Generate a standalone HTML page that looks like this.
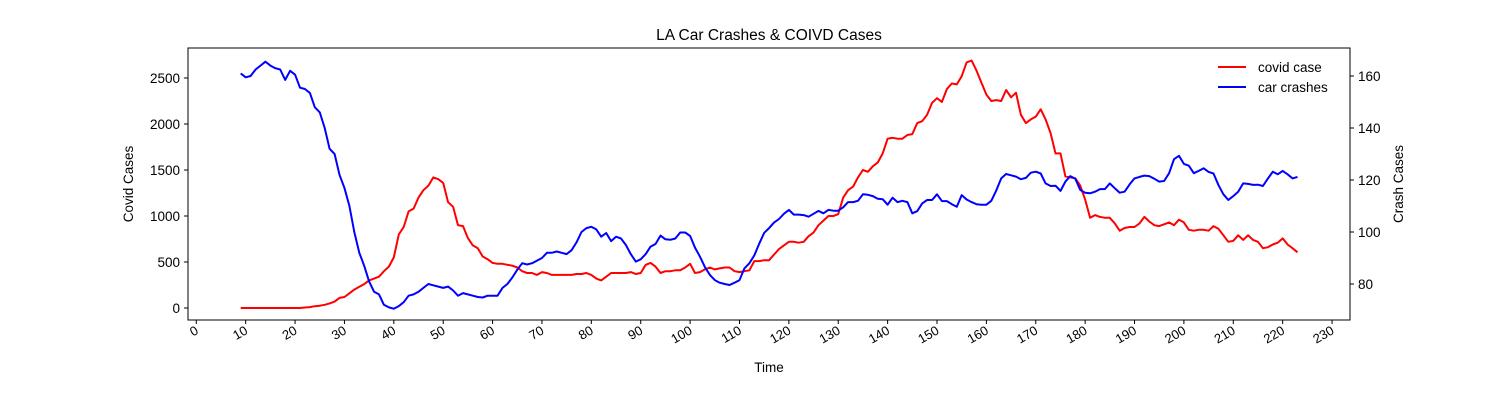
<!DOCTYPE html>
<html><head><meta charset="utf-8"><style>
body{margin:0;background:#fff;}
svg{display:block;font-family:"Liberation Sans","DejaVu Sans",sans-serif;}
</style></head><body>
<svg id="chart" width="1500" height="400" viewBox="0 0 1500 400">
<rect x="0" y="0" width="1500" height="400" fill="#fff"/>
<text x="769" y="40" font-size="15.5" text-anchor="middle">LA Car Crashes &amp; COIVD Cases</text>
<g id="xticks"></g>
<g id="lticks"></g>
<g id="rticks"></g>
<g id="series"></g>
<rect x="188" y="48" width="1162" height="272" fill="none" stroke="#000" stroke-width="1"/>
<text x="769" y="372" font-size="13.5" text-anchor="middle">Time</text>
<text x="133" y="184" font-size="13.5" text-anchor="middle" transform="rotate(-90 133 184)">Covid Cases</text>
<text x="1403" y="184" font-size="13.5" text-anchor="middle" transform="rotate(-90 1403 184)">Crash Cases</text>
<g>
<line x1="1218" y1="67" x2="1246" y2="67" stroke="#f00" stroke-width="2"/>
<text x="1258" y="72" font-size="13.5">covid case</text>
<line x1="1218" y1="87" x2="1246" y2="87" stroke="#00f" stroke-width="2"/>
<text x="1258" y="92" font-size="13.5">car crashes</text>
</g>
</svg>
<script>
const startDay = 9;
const covidCases = [0,0,0,0,0,0,0,0,0,0,0,0,0,5,10,20,25,35,50,70,110,120,160,200,230,260,300,320,340,400,450,550,800,880,1050,1080,1200,1280,1330,1420,1400,1360,1150,1100,900,890,760,680,650,560,530,490,480,480,470,460,440,400,380,380,360,390,380,360,360,360,360,360,370,370,380,360,320,300,340,380,380,380,380,390,370,380,470,490,450,380,400,400,410,410,440,480,380,390,420,440,420,430,440,440,400,390,400,410,510,510,520,520,580,640,680,720,720,710,720,780,820,900,950,1000,1000,1020,1200,1280,1320,1420,1500,1480,1540,1580,1680,1840,1850,1840,1840,1880,1890,2010,2030,2100,2230,2280,2240,2380,2440,2430,2520,2670,2690,2580,2450,2320,2250,2260,2250,2370,2290,2340,2100,2010,2050,2080,2160,2050,1900,1680,1680,1430,1420,1410,1330,1180,980,1010,990,980,980,920,840,870,880,880,920,990,940,900,890,910,930,900,960,930,850,840,850,850,840,890,860,790,720,730,790,740,790,740,720,650,660,690,710,757,690,650,605];
const crashCases = [161,159.5,160,162.5,164,165.5,164,163,162.5,158.5,162,160.5,155.5,155,153.5,148,146,140,132,130,122,117,110,100,92,87,81,77,76,72,71,70.5,71.5,73,75.5,76,77,78.5,80,79.5,79,78.5,79,77.5,75.5,76.5,76,75.5,75,74.8,75.5,75.5,75.5,78.5,80,82.5,85.5,88,87.5,88,89,90,92,92,92.5,92,91.5,93,96,100,101.5,
102,101,98.2,99.6,96.5,98.2,97.5,95,91.5,88.6,89.5,91.5,94.4,95.4,98.6,97.2,97,97.5,99.8,99.8,98.5,94,90.5,86.5,83.5,81.5,80.5,80,79.6,80.5,81.5,86,88,91,95.5,99.7,101.5,103.6,105,107,108.5,106.7,106.7,106.5,105.9,107,108.1,107.2,108.5,
108.2,108.2,109.5,111.5,111.5,112,114.5,114.3,113.8,112.8,112.6,110.5,113.2,111.5,112,111.5,107.2,108,111,112.3,112.3,114.5,111.9,111.9,110.7,109.7,114.2,112.5,111.5,110.7,110.5,110.5,112,116,120.6,122.3,121.8,121.3,120.3,120.8,122.8,123.2,122.5,118.7,117.7,117.8,115.8,119.4,121.5,120.5,116.2,115.1,
114.9,115.5,116.5,116.5,118.7,116.8,115.1,115.5,118.3,120.6,121.2,121.7,121.5,120.5,119.4,119.6,122.6,128,129.3,126.2,125.5,122.6,123.5,124.5,123.1,122.5,118,114.5,112.3,113.8,115.5,118.7,118.5,118.1,118.2,117.7,120.5,123.2,122.2,123.5,122.2,120.6,121.2];
const xTickLabels = [0,10,20,30,40,50,60,70,80,90,100,110,120,130,140,150,160,170,180,190,200,210,220,230];
const leftTickLabels = [0,500,1000,1500,2000,2500];
const rightTickLabels = [80,100,120,140,160];

const NS = "http://www.w3.org/2000/svg";
function xS(d){return 196.3 + d*4.938;}
function yL(v){return 308 - v*0.092;}
function yR(v){return 284 - (v-80)*2.6;}
function mk(tag, attrs, parent){const e=document.createElementNS(NS,tag);for(const k in attrs)e.setAttribute(k,attrs[k]);parent.appendChild(e);return e;}

const gx=document.getElementById('xticks');
xTickLabels.forEach(t=>{
  const x=xS(t);
  const l=mk('line',{x1:x,y1:320,x2:x,y2:324,stroke:'#000'},gx);
  
  
  const tx=mk('text',{x:x+3,y:333,'font-size':13,'text-anchor':'end',transform:`rotate(-30 ${x+3} 333)`},gx);
  tx.textContent=t;
  
  
});
const gl=document.getElementById('lticks');
leftTickLabels.forEach(t=>{
  const y=yL(t);
  const l=mk('line',{x1:184,y1:y,x2:188,y2:y,stroke:'#000'},gl);
  
  
  const tx=mk('text',{x:180,y:y+5,'font-size':13.5,'text-anchor':'end'},gl);
  tx.textContent=t;
  
  
});
const gr=document.getElementById('rticks');
rightTickLabels.forEach(t=>{
  const y=yR(t);
  const l=mk('line',{x1:1350,y1:y,x2:1354,y2:y,stroke:'#000'},gr);
  
  
  const tx=mk('text',{x:1358,y:y+5,'font-size':13.5},gr);
  tx.textContent=t;
  
  
});
const gs=document.getElementById('series');
const covPts=covidCases.map((v,i)=>xS(startDay+i).toFixed(1)+','+yL(v).toFixed(1)).join(' ');
const covLine=mk('polyline',{points:covPts,fill:'none',stroke:'#f00','stroke-width':2,'stroke-linejoin':'round'},gs);


const crPts=crashCases.map((v,i)=>xS(startDay+i).toFixed(1)+','+yR(v).toFixed(1)).join(' ');
const crLine=mk('polyline',{points:crPts,fill:'none',stroke:'#00f','stroke-width':2,'stroke-linejoin':'round'},gs);


</script>
</body></html>
